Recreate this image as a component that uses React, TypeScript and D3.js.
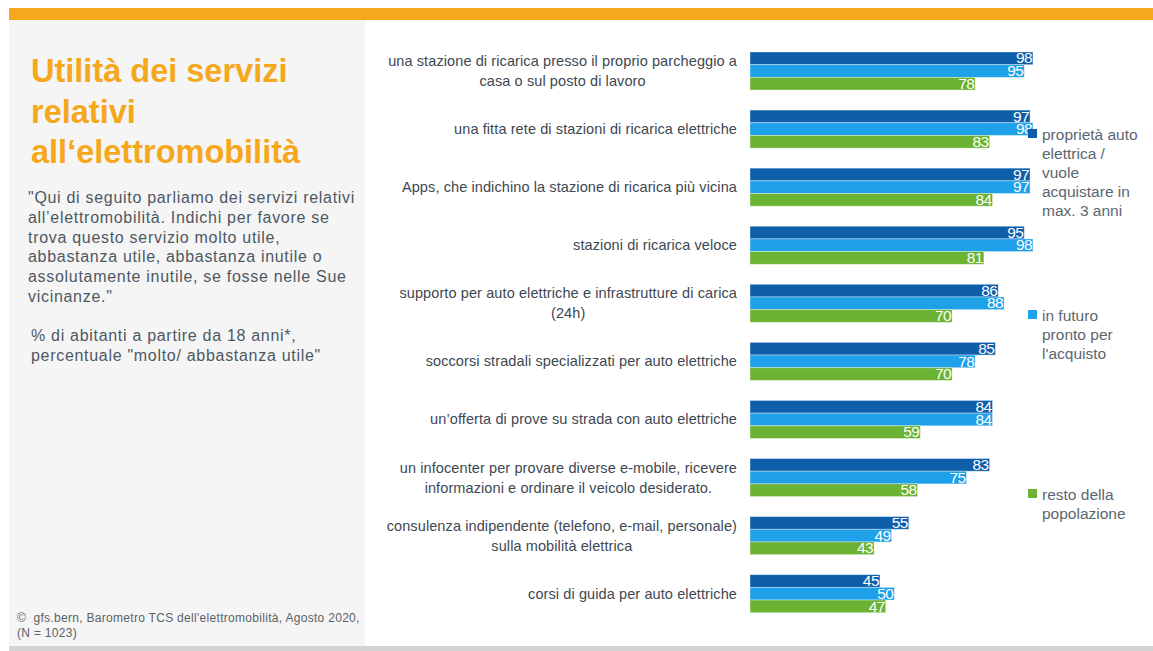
import React, { useEffect, useRef } from "react";
import * as d3 from "d3";

const categories: string[][] = [
  ["una stazione di ricarica presso il proprio parcheggio a", "casa o sul posto di lavoro"],
  ["una fitta rete di stazioni di ricarica elettriche"],
  ["Apps, che indichino la stazione di ricarica più vicina"],
  ["stazioni di ricarica veloce"],
  ["supporto per auto elettriche e infrastrutture di carica", "(24h)"],
  ["soccorsi stradali specializzati per auto elettriche"],
  ["un’offerta di prove su strada con auto elettriche"],
  ["un infocenter per provare diverse e-mobile, ricevere", "informazioni e ordinare il veicolo desiderato."],
  ["consulenza indipendente (telefono, e-mail, personale)", "sulla mobilità elettrica"],
  ["corsi di guida per auto elettriche"],
];

const ownersValues = [98, 97, 97, 95, 86, 85, 84, 83, 55, 45];
const futureValues = [95, 98, 97, 98, 88, 78, 84, 75, 49, 50];
const restValues = [78, 83, 84, 81, 70, 70, 59, 58, 43, 47];

const seriesKeys = ["owners", "future", "rest"];
const seriesColors = ["#0F5EAA", "#1EA1E9", "#6CB233"];
const legendLabels: string[][] = [
  ["proprietà auto", "elettrica /", "vuole", "acquistare in", "max. 3 anni"],
  ["in futuro", "pronto per", "l'acquisto"],
  ["resto della", "popolazione"],
];
const legendTops = [129, 310, 489];

const titleLines = ["Utilità dei servizi", "relativi", "all‘elettromobilità"];
const questionLines = [
  "\"Qui di seguito parliamo dei servizi relativi",
  "all’elettromobilità. Indichi per favore se",
  "trova questo servizio molto utile,",
  "abbastanza utile, abbastanza inutile o",
  "assolutamente inutile, se fosse nelle Sue",
  "vicinanze.\"",
];
const baseLines = ["% di abitanti a partire da 18 anni*,", "percentuale \"molto/ abbastanza utile\""];
const sourceLines = ["©\u00A0 gfs.bern, Barometro TCS dell'elettromobilità, Agosto 2020,", "(N = 1023)"];

const W = 1153;
const H = 651;
const FONT = "'Liberation Sans', Arial, sans-serif";

export default function App() {
  const ref = useRef<SVGSVGElement | null>(null);

  useEffect(() => {
    const svg = d3.select(ref.current);
    svg.selectAll("*").remove();

    // frame
    svg.append("rect").attr("x", 0).attr("y", 0).attr("width", W).attr("height", H).attr("fill", "#ffffff");
    svg.append("rect").attr("x", 9).attr("y", 20).attr("width", 356).attr("height", 626).attr("fill", "#F5F5F5");
    svg.append("rect").attr("x", 9).attr("y", 8).attr("width", W - 9).attr("height", 12).attr("fill", "#F5A81C");
    svg.append("rect").attr("x", 9).attr("y", 646).attr("width", W - 9).attr("height", 5).attr("fill", "#D4D4D4");

    // title
    const title = svg.append("text").attr("font-family", FONT).attr("font-weight", "bold")
      .attr("font-size", 32.5).attr("fill", "#F5A81C");
    titleLines.forEach((l, i) => {
      title.append("tspan").attr("x", 31).attr("y", 82 + i * 40.7).text(l);
    });

    const q = svg.append("text").attr("font-family", FONT).attr("font-size", 16)
      .attr("letter-spacing", 0.7).attr("fill", "#4D5863");
    questionLines.forEach((l, i) => {
      q.append("tspan").attr("x", 28).attr("y", 203 + i * 19.8).text(l);
    });
    const b = svg.append("text").attr("font-family", FONT).attr("font-size", 16)
      .attr("letter-spacing", 0.7).attr("fill", "#4D5863");
    baseLines.forEach((l, i) => {
      b.append("tspan").attr("x", 31).attr("y", 341 + i * 19.8).text(l);
    });
    const s = svg.append("text").attr("font-family", FONT).attr("font-size", 12)
      .attr("letter-spacing", 0.3).attr("fill", "#5A6168");
    sourceLines.forEach((l, i) => {
      s.append("tspan").attr("x", 17).attr("y", 622 + i * 14.5).text(l);
    });

    // chart
    const idx = categories.map((_, i) => String(i));
    const y = d3.scaleBand<string>().domain(idx).range([52, 612.7]).paddingInner(0.345).paddingOuter(0);
    const yInner = d3.scaleBand<string>().domain(seriesKeys).range([0, y.bandwidth()]);
    const x = d3.scaleLinear().domain([0, 100]).range([750, 1038.7]);
    const values = [ownersValues, futureValues, restValues];

    const g = svg.append("g");
    categories.forEach((_, ci) => {
      const gy = y(String(ci))!;
      seriesKeys.forEach((k, si) => {
        const v = values[si][ci];
        const by = gy + yInner(k)!;
        g.append("rect")
          .attr("x", x(0)).attr("y", by)
          .attr("width", x(v) - x(0)).attr("height", yInner.bandwidth())
          .attr("fill", seriesColors[si])
          .attr("stroke", "rgba(255,255,255,0.45)").attr("stroke-width", 0.8);
        g.append("text")
          .attr("x", x(v) - 1).attr("y", by + yInner.bandwidth() - 1.2)
          .attr("text-anchor", "end")
          .attr("font-family", FONT).attr("font-size", 15.5).attr("letter-spacing", -0.6)
          .attr("fill", "#ffffff")
          .text(String(v));
      });
    });

    // category labels: block right-aligned, lines centered within block
    const labelRight = 737;
    const lineH = 20;
    categories.forEach((lines, ci) => {
      const cy = y(String(ci))! + y.bandwidth() / 2;
      const t = svg.append("text").attr("font-family", FONT).attr("font-size", 14.5)
        .attr("letter-spacing", 0.1).attr("fill", "#3E4852").attr("text-anchor", "middle");
      const spans = lines.map((l, li) =>
        t.append("tspan").attr("y", cy + (li - (lines.length - 1) / 2) * lineH + 5).text(l)
      );
      const widths = spans.map((sp) => (sp.node() as SVGTSpanElement).getComputedTextLength());
      const maxW = d3.max(widths) || 0;
      spans.forEach((sp) => sp.attr("x", labelRight - maxW / 2));
    });

    // legend
    legendLabels.forEach((lines, li) => {
      const top = legendTops[li];
      svg.append("rect").attr("x", 1028).attr("y", top).attr("width", 9).attr("height", 9).attr("fill", seriesColors[li]);
      const t = svg.append("text").attr("font-family", FONT).attr("font-size", 15.5)
        .attr("fill", "#5C6670");
      lines.forEach((l, i) => {
        t.append("tspan").attr("x", 1042).attr("y", top + 11 + i * 19).text(l);
      });
    });
  }, []);

  return (
    <svg
      ref={ref}
      width={W}
      height={H}
      style={{ position: "absolute", left: 0, top: 0, display: "block" }}
    />
  );
}
